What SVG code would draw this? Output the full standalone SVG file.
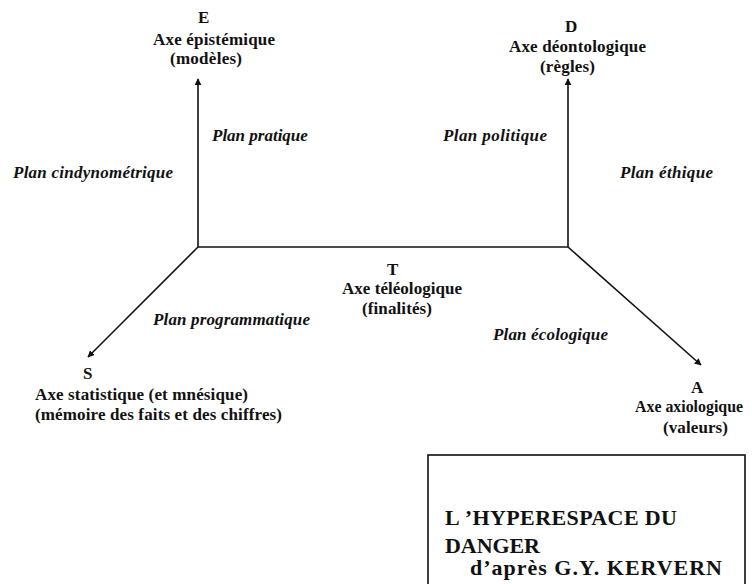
<svg xmlns="http://www.w3.org/2000/svg" width="752" height="584" viewBox="0 0 752 584">
  <style>
    text { font-family: "Liberation Serif", "Times New Roman", "DejaVu Serif", serif; fill: #111; }
    .lbl { font-size: 17px; font-weight: bold; }
    .plan { font-size: 17px; font-weight: bold; font-style: italic; }
    .title { font-size: 22px; font-weight: bold; }
    .axis { stroke: #111; stroke-width: 1.6; fill: none; }
  </style>
  <defs>
    <marker id="arrow" viewBox="0 0 10 10" refX="9" refY="5" markerWidth="7" markerHeight="7" markerUnits="userSpaceOnUse" orient="auto">
      <path d="M0,0 L10,5 L0,10 z" fill="#111"/>
    </marker>
  </defs>
  <rect width="752" height="584" fill="#fff"/>

  <!-- axes -->
  <g id="connectors">
    <polyline class="axis" points="198,247 568,247"/>
    <line class="axis" x1="198" y1="247" x2="198" y2="79" marker-end="url(#arrow)"/>
    <line class="axis" x1="568" y1="247" x2="568" y2="79" marker-end="url(#arrow)"/>
    <line class="axis" x1="198" y1="247" x2="88" y2="357" marker-end="url(#arrow)"/>
    <line class="axis" x1="568" y1="247" x2="701" y2="365" marker-end="url(#arrow)"/>
  </g>

  <!-- axis labels -->
  <g id="axe-E">
    <text class="lbl" x="198" y="23">E</text>
    <text class="lbl" x="153" y="45" textLength="122" lengthAdjust="spacing">Axe épistémique</text>
    <text class="lbl" x="170" y="64" textLength="72" lengthAdjust="spacing">(modèles)</text>
  </g>
  <g id="axe-D">
    <text class="lbl" x="565" y="32">D</text>
    <text class="lbl" x="509" y="52" textLength="137" lengthAdjust="spacing">Axe déontologique</text>
    <text class="lbl" x="540" y="72" textLength="55" lengthAdjust="spacing">(règles)</text>
  </g>
  <g id="axe-T">
    <text class="lbl" x="387" y="275">T</text>
    <text class="lbl" x="342" y="294" textLength="120" lengthAdjust="spacing">Axe téléologique</text>
    <text class="lbl" x="362" y="314" textLength="70" lengthAdjust="spacing">(finalités)</text>
  </g>
  <g id="axe-S">
    <text class="lbl" x="83" y="379">S</text>
    <text class="lbl" x="35" y="400" textLength="213" lengthAdjust="spacing">Axe statistique (et mnésique)</text>
    <text class="lbl" x="35" y="420" textLength="247" lengthAdjust="spacing">(mémoire des faits et des chiffres)</text>
  </g>
  <g id="axe-A">
    <text class="lbl" x="691" y="393">A</text>
    <text class="lbl" x="635" y="412" font-size="16" textLength="108" lengthAdjust="spacingAndGlyphs">Axe axiologique</text>
    <text class="lbl" x="663" y="433" textLength="65" lengthAdjust="spacing">(valeurs)</text>
  </g>

  <!-- planes -->
  <g id="plans">
    <text class="plan" x="13" y="178" textLength="160" lengthAdjust="spacing">Plan cindynométrique</text>
    <text class="plan" x="212" y="141">Plan pratique</text>
    <text class="plan" x="443" y="141" textLength="104" lengthAdjust="spacing">Plan politique</text>
    <text class="plan" x="620" y="178" textLength="93" lengthAdjust="spacing">Plan éthique</text>
    <text class="plan" x="153" y="325" textLength="157" lengthAdjust="spacing">Plan programmatique</text>
    <text class="plan" x="493" y="340" textLength="115" lengthAdjust="spacing">Plan écologique</text>
  </g>

  <!-- title box -->
  <g id="titre">
    <rect x="428" y="455" width="317" height="140" fill="none" stroke="#111" stroke-width="1.6"/>
    <text class="title" x="445" y="525" textLength="232" lengthAdjust="spacing">L ’HYPERESPACE DU</text>
    <text class="title" x="445" y="553" textLength="95" lengthAdjust="spacing">DANGER</text>
    <text class="title" x="470" y="575" textLength="252" lengthAdjust="spacing">d’après G.Y. KERVERN</text>
  </g>
</svg>
